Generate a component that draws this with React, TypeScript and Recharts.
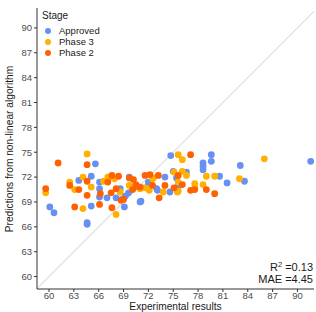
import {
  ScatterChart,
  Scatter,
  XAxis,
  YAxis,
  ReferenceLine,
} from 'recharts';

if (typeof document !== 'undefined') document.body.style.margin = '0';

// ── Data ──────────────────────────────────────────────────────────────────────

const approved: [number, number][] = [
  [60.1, 68.4], [60.6, 67.7], [63.6, 71.6], [65.1, 72.1], [65.6, 73.6],
  [64.6, 66.5], [64.6, 66.3], [65.1, 68.5], [66.1, 71.4], [66.1, 70.6],
  [66.1, 69.6], [67.0, 69.5], [68.1, 69.5], [69.1, 68.4], [68.6, 70.6],
  [69.6, 70.1], [69.2, 69.7], [68.8, 69.3], [69.7, 72.0], [70.2, 70.7],
  [71.1, 69.1], [72.0, 71.4], [72.0, 71.2], [73.1, 70.4], [73.0, 70.6],
  [74.0, 72.0], [74.6, 70.2], [74.7, 74.6], [75.0, 72.7], [75.4, 71.9],
  [75.6, 70.9], [76.6, 72.6], [78.6, 73.7], [78.6, 73.3], [78.6, 72.9],
  [79.6, 74.7], [79.6, 73.9], [80.6, 72.1], [81.5, 71.3], [83.1, 73.4],
  [83.6, 71.5], [91.6, 73.9], [71.0, 69.0],
];

const phase3: [number, number][] = [
  [59.6, 70.1], [62.5, 71.4], [63.1, 70.5], [64.1, 72.0], [64.6, 74.8],
  [65.1, 70.8], [64.1, 68.2], [66.6, 71.5], [67.1, 72.0], [67.9, 71.8],
  [68.1, 67.5], [68.6, 70.2], [69.7, 71.0], [71.5, 70.7], [72.0, 70.6],
  [72.1, 70.4], [72.5, 71.8], [72.6, 71.9], [73.8, 70.2], [75.5, 70.2],
  [75.1, 72.6], [75.6, 74.7], [76.1, 74.1], [76.1, 72.7], [76.6, 72.2],
  [75.6, 71.4], [75.6, 70.3], [77.6, 71.2], [77.6, 70.7], [78.6, 71.1],
  [79.0, 72.1], [80.0, 72.1], [83.0, 71.8], [86.0, 74.2], [71.0, 70.6],
  [67.3, 72.0],
];

const phase2: [number, number][] = [
  [59.6, 70.6], [61.1, 73.7], [62.5, 71.0], [63.1, 68.4], [63.6, 70.5],
  [64.6, 73.5], [64.6, 71.5], [64.6, 69.8], [66.1, 68.7], [66.2, 70.0],
  [67.1, 71.4], [67.5, 70.1], [67.6, 72.2], [68.4, 72.1], [68.7, 69.2],
  [67.6, 68.3], [69.0, 69.3], [69.7, 71.9], [70.2, 71.7], [70.5, 71.1],
  [70.6, 70.9], [71.6, 72.2], [72.2, 72.3], [73.2, 72.2], [74.0, 71.0],
  [73.3, 69.5], [75.1, 70.7], [75.6, 72.2], [76.1, 71.1], [77.1, 74.7],
  [77.1, 70.4], [77.6, 70.5], [79.0, 70.5], [80.0, 70.0], [71.0, 70.8],
  [72.5, 71.0], [68.1, 70.6], [70.1, 70.5],
];

const ticks = [60, 63, 66, 69, 72, 75, 78, 81, 84, 87, 90];

const toPoints = (rows: [number, number][]) => rows.map(([x, y]) => ({ x, y }));

const SERIES = [
  { name: 'Approved', colour: '#6691F2', data: toPoints(approved) },
  { name: 'Phase 3', colour: '#FFB000', data: toPoints(phase3) },
  { name: 'Phase 2', colour: '#FF6100', data: toPoints(phase2) },
];

// ── Styles ────────────────────────────────────────────────────────────────────

const FONT = '"Liberation Sans", Arial, sans-serif';
const TICK_STYLE = { fontSize: 9.5, fill: '#4d4d4d', fontFamily: FONT };
const AXIS_LINE = { stroke: '#333333', strokeWidth: 1 };
const TEXT_COLOUR = '#1a1a1a';

function Dot(props: { cx?: number; cy?: number; fill?: string }) {
  const { cx, cy, fill } = props;
  if (cx == null || cy == null) return null;
  return <circle cx={cx} cy={cy} r={3.4} fill={fill} />;
}

function StageLegend() {
  return (
    <div
      style={{
        position: 'absolute',
        left: 42,
        top: 10,
        fontFamily: FONT,
        color: TEXT_COLOUR,
      }}
    >
      <div style={{ fontSize: 10, lineHeight: '12px', marginBottom: 3 }}>Stage</div>
      {SERIES.map((s) => (
        <div
          key={s.name}
          style={{ display: 'flex', alignItems: 'center', height: 11, fontSize: 9.5 }}
        >
          <span
            style={{
              display: 'inline-block',
              width: 6,
              height: 6,
              borderRadius: '50%',
              background: s.colour,
              marginLeft: 3,
              marginRight: 8,
            }}
          />
          {s.name}
        </div>
      ))}
    </div>
  );
}

export default function App() {
  return (
    <div style={{ position: 'relative', width: 316, height: 312, background: '#fff' }}>
      <ScatterChart width={316} height={312} margin={{ top: 8, right: 2, bottom: 0, left: 0 }}>
        <XAxis
          type="number"
          dataKey="x"
          domain={[58.55, 92]}
          ticks={ticks}
          tick={TICK_STYLE}
          tickSize={3}
          tickMargin={0}
          tickLine={AXIS_LINE}
          axisLine={AXIS_LINE}
          height={23}
        />
        <YAxis
          type="number"
          dataKey="y"
          domain={[58.5, 92.4]}
          ticks={ticks}
          tick={TICK_STYLE}
          tickSize={3}
          tickLine={AXIS_LINE}
          axisLine={AXIS_LINE}
          width={37}
        />
        <ReferenceLine
          segment={[{ x: 58.55, y: 58.55 }, { x: 92, y: 92 }]}
          stroke="#cccccc"
          strokeWidth={1}
        />
        {SERIES.map((s) => (
          <Scatter
            key={s.name}
            name={s.name}
            data={s.data}
            fill={s.colour}
            shape={<Dot />}
            isAnimationActive={false}
          />
        ))}
      </ScatterChart>

      <StageLegend />

      {/* axis titles */}
      <div
        style={{
          position: 'absolute',
          left: 37,
          width: 277,
          top: 302,
          textAlign: 'center',
          fontFamily: FONT,
          fontSize: 10.2,
          lineHeight: '10px',
          color: TEXT_COLOUR,
        }}
      >
        Experimental results
      </div>
      <div
        style={{
          position: 'absolute',
          left: 10,
          top: 148.5,
          transform: 'translate(-50%, -50%) rotate(-90deg)',
          whiteSpace: 'nowrap',
          fontFamily: FONT,
          fontSize: 10.2,
          lineHeight: '12px',
          color: TEXT_COLOUR,
        }}
      >
        Predictions from non-linear algorithm
      </div>

      {/* fit statistics */}
      <div
        style={{
          position: 'absolute',
          right: 3,
          top: 261,
          textAlign: 'right',
          fontFamily: FONT,
          fontSize: 11,
          lineHeight: '12px',
          color: TEXT_COLOUR,
        }}
      >
        <div>
          R<sup style={{ fontSize: 7.5, lineHeight: 0, verticalAlign: 4 }}>2</sup> =0.13
        </div>
        <div>MAE =4.45</div>
      </div>
    </div>
  );
}
